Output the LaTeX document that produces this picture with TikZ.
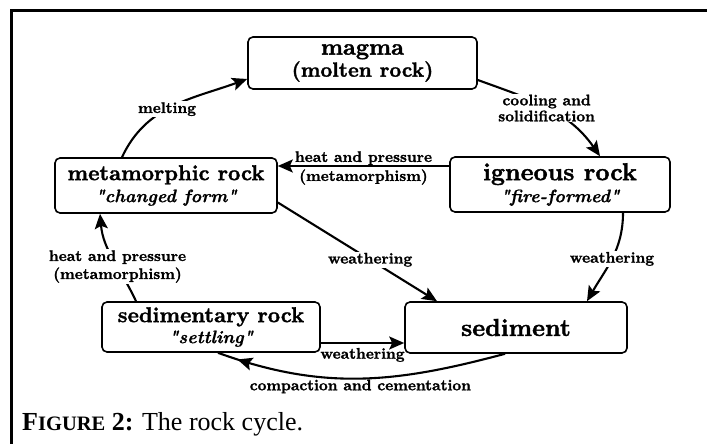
\documentclass[tikz,border=0pt]{standalone}
\usepackage{fontspec}
\newfontfamily\capfont{Liberation Serif}
\newfontfamily\rockbf{lmroman10-bold.otf}[FakeBold=1.5]
\newfontfamily\rockit{lmroman10-bolditalic.otf}[FakeBold=0.8]
\usetikzlibrary{arrows.meta,decorations.markings}
\newcommand{\rockname}[2]{{\fontsize{#1}{22}\selectfont #2}}
\newcommand{\rocknick}[1]{{\rockit\fontsize{18}{22}\selectfont\symbol{34}#1\symbol{34}}}

\begin{document}
\begin{tikzpicture}[x=1pt, y=1pt,
  box/.style={draw, line width=1.6pt, rounded corners=5pt, align=center, inner sep=0pt,
    font=\rockbf\fontsize{21}{22}\selectfont},
  rockhead/.tip={Stealth[length=15pt, width=13pt, inset=3pt]},
  flow/.style={line width=2.1pt, -rockhead},
  lbl/.style={font=\rockbf\fontsize{15.3}{16}\selectfont, align=center, inner sep=1pt},
  gap/.style={lbl, fill=white}]
  \useasboundingbox (0,0) rectangle (707,444);
  % frame: only its left and top edges are in the picture
  \draw[line width=3pt] (11,0) -- (11,433) -- (707,433);
  % the five stages
  \node[box, minimum width=229pt, minimum height=52pt] (magma) at (362.5,381)
    {{\fontsize{23}{18}\selectfont magma}\\{\fontsize{20.5}{18}\selectfont (molten rock)}};
  \node[box, minimum width=222pt, minimum height=55pt] (meta) at (166,258.5)
    {\rockname{21.5}{metamorphic rock}\\\rocknick{changed form}};
  \node[box, minimum width=220pt, minimum height=55pt] (ign) at (560,259.5)
    {\rockname{24.5}{igneous rock}\\\rocknick{fire-formed}};
  \node[box, minimum width=218pt, minimum height=50pt] (sedr) at (211,117)
    {\rockname{21.5}{sedimentary rock}\\[-1pt]\rocknick{settling}};
  \node[box, minimum width=222pt, minimum height=51pt] (sedi) at (516,116.5)
    {\rockname{24.5}{sediment}};
  % processes
  \draw[flow] ([xshift=-44pt]meta.north) to[out=65, in=200]
    node[gap, pos=0.45] {melting} ([yshift=-16pt]magma.west);
  \draw[flow] ([yshift=-17pt]magma.east) to[out=-20, in=125]
    node[gap, pos=0.5] {cooling and\\solidification} ([xshift=40pt]ign.north);
  \draw[flow] ([yshift=18.5pt]ign.west) --
    node[lbl, yshift=-2pt, font=\rockbf\fontsize{15.3}{19}\selectfont] {heat and pressure\\(metamorphism)}
    ([yshift=19.5pt]meta.east);
  \draw[flow] ([yshift=-17pt]meta.east) --
    node[gap, pos=0.58] {weathering} ([xshift=-79pt]sedi.north);
  \draw[flow] ([xshift=63pt]ign.south) to[out=-90, in=60]
    node[gap, pos=0.5] {weathering} ([xshift=71pt]sedi.north);
  \draw[flow] ([xshift=-75pt]sedr.north) to[out=115, in=-85]
    node[gap, pos=0.4, font=\rockbf\fontsize{15.3}{18}\selectfont] {heat and pressure\\(metamorphism)}
    ([xshift=-66pt]meta.south);
  \draw[flow] ([yshift=-16pt]sedr.east) --
    node[lbl, below=3pt] {weathering} ([yshift=-15.5pt]sedi.west);
  \draw[line width=2.1pt, postaction={decorate},
    decoration={markings, mark=at position 0.93 with {\arrow{rockhead}}}]
    ([xshift=-11pt]sedi.south) to[out=195, in=-20]
    node[lbl, below, inner sep=0pt] {compaction and cementation} ([xshift=7pt]sedr.south);
  % caption
  \node[anchor=base west, inner sep=0pt] (cap) at (22,13)
    {\capfont\fontsize{26}{30}\selectfont\textbf{F{\fontsize{20.5}{24}\selectfont IGURE} 2:} The rock cycle.};
\end{tikzpicture}
\end{document}
